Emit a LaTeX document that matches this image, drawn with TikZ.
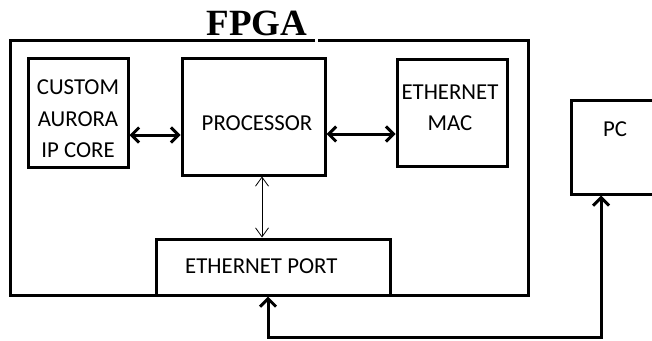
\documentclass[tikz,border=0pt]{standalone}
\usepackage{fontspec}
\setmainfont{Carlito}
\newfontfamily\titlefont{Liberation Serif}
\usetikzlibrary{arrows.meta}
\begin{document}
\begin{tikzpicture}[x=1pt,y=-1pt,
  blk/.style={draw=black,line width=3pt,rectangle,inner sep=0pt},
  lbl/.style={inner sep=0pt,font=\fontsize{22.8}{31.5}\selectfont,align=center},
  thick arrow/.style={line width=3pt,{Straight Barb[length=7.5pt,width=15pt]}-{Straight Barb[length=7.5pt,width=15pt]}},
  thin arrow/.style={line width=0.8pt,{Straight Barb[length=9pt,width=13pt]}-{Straight Barb[length=9pt,width=13pt]}}]
\useasboundingbox (0,0) rectangle (652,340);
% FPGA outer box with gap in the top line
\coordinate (ftl) at (10,40);
\coordinate (fbr) at (528,295);
\draw[line width=3pt,line join=miter] (315,40) -- (ftl) -- (10,295) -- (528,295) -- (528,40) -- (318,40);
\node[inner sep=0pt,anchor=base,font=\titlefont\bfseries\fontsize{37}{40}\selectfont] (fpga) at (257,35) {FPGA};
% blocks
\node[blk,minimum width=100pt,minimum height=109pt] (custom) at (78,112.5) {};
\node[blk,minimum width=143pt,minimum height=117pt] (proc) at (253.5,116.5) {};
\node[blk,minimum width=110pt,minimum height=107pt] (mac) at (452,112.5) {};
\node[blk,minimum width=100pt,minimum height=94pt] (pc) at (621,147) {};
\node[blk,minimum width=234pt,minimum height=56pt] (port) at (273,267) {};
% labels
\node[lbl] (tcustom) at (78,119) {CUSTOM\\AURORA\\IP CORE};
\node[lbl] (tproc) at (257,123) {PROCESSOR};
\node[lbl] (tmac) at (450,108) {ETHERNET\\MAC};
\node[lbl] (tpc) at (615,129) {PC};
\node[lbl,anchor=west] (tport) at (185,266) {ETHERNET PORT};
% connectors
\draw[thick arrow] (custom.east |- 0,135) -- (proc.west |- 0,135);
\draw[thick arrow] (proc.east |- 0,134) -- (mac.west |- 0,134);
\draw[thin arrow] (proc.south -| 262,0) -- (port.north -| 262,0);
\coordinate (b1) at (268,337);
\coordinate (b2) at (601,337);
\draw[line width=3pt,line join=miter,{Straight Barb[length=8pt,width=16pt]}-{Straight Barb[length=8pt,width=16pt]}]
  (port.south -| b1) -- (b1) -- (b2) -- (pc.south -| b2);
\end{tikzpicture}
\end{document}
